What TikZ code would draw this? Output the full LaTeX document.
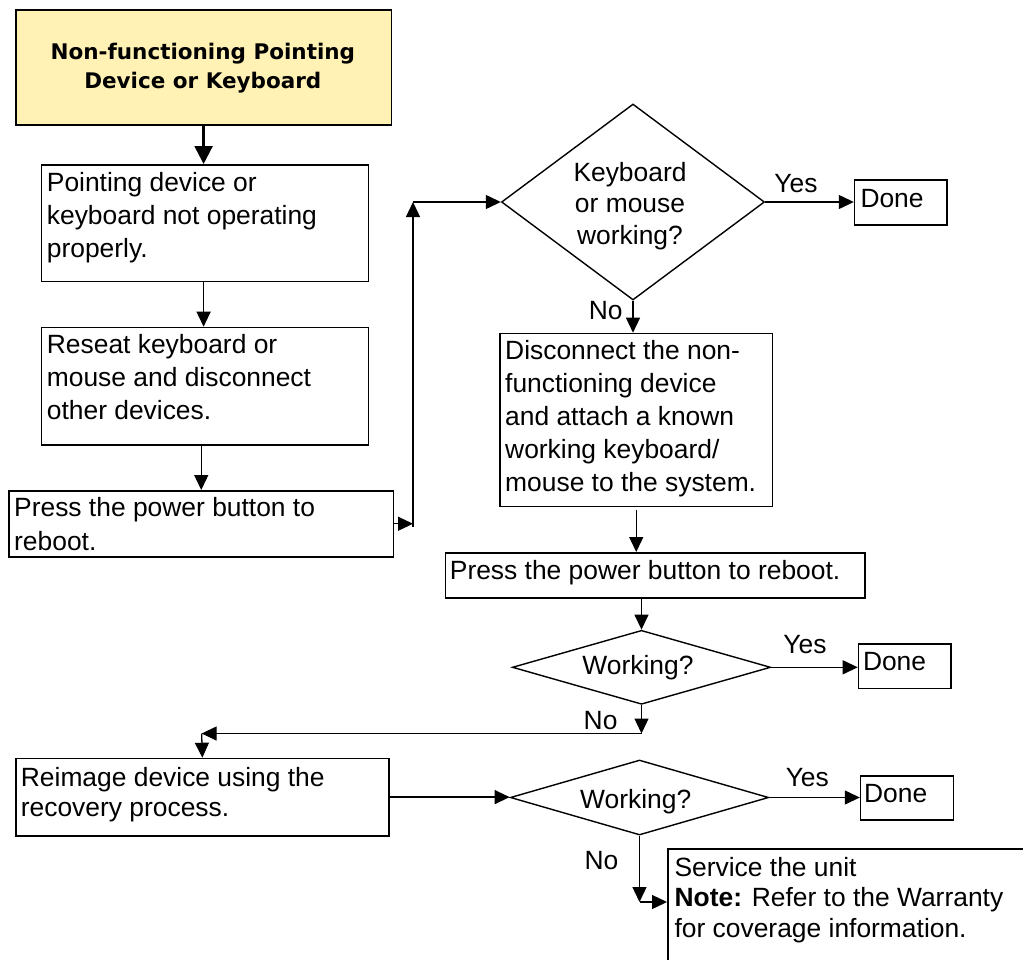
\documentclass[tikz,border=0pt]{standalone}
\usepackage{fontspec}
\setmainfont{Liberation Sans}
\newfontfamily\titlefont{DejaVu Sans}
\usetikzlibrary{arrows.meta,shapes.geometric}
\definecolor{titlefill}{RGB}{255,242,180}
\newcommand{\mlines}[2]{\vtop{\baselineskip=#1\lineskiplimit=-1000pt\relax #2}}
\newcommand{\clines}[2]{\vtop{\baselineskip=#1\lineskiplimit=-1000pt\relax\halign{\hfil##\hfil\cr #2\crcr}}}
\begin{document}
\begin{tikzpicture}[x=1pt,y=-1pt,
  box/.style={draw, line width=1.5pt, rectangle, inner sep=0pt, anchor=north west},
  dia/.style={draw, line width=1.4pt, diamond, inner sep=0pt},
  txt/.style={inner sep=0pt, font=\fontsize{26.4}{31}\selectfont, anchor=base west},
  lbl/.style={inner sep=0pt, font=\fontsize{26.4}{31}\selectfont, anchor=base},
  arr/.style={line width=1.3pt, -{Triangle[length=15pt,width=14pt]}},
  thickarr/.style={line width=2.4pt, -{Triangle[length=18pt,width=18pt]}},
]
\useasboundingbox (0,0) rectangle (1023,959);
\path[clip] (0,0) rectangle (1023,959);
\fill[white] (0,0) rectangle (1023,959);

% boxes
\node[box, fill=titlefill, minimum width=375.7, minimum height=115] (title) at (15,9) {};
\node[box, minimum width=327, minimum height=116.7] (b1) at (40.7,164) {};
\node[box, minimum width=327, minimum height=117.3] (b2) at (40.7,326.7) {};
\node[box, minimum width=384.4, minimum height=66] (p1) at (8.3,490) {};
\node[box, minimum width=272.4, minimum height=173] (b3) at (499.3,332.7) {};
\node[box, minimum width=419.5, minimum height=45] (p2) at (444.5,552) {};
\node[box, minimum width=373.3, minimum height=77.3] (b4) at (15,757.7) {};
\node[box, minimum width=92.6, minimum height=45] (done1) at (853.8,179) {};
\node[box, minimum width=92.6, minimum height=44.4] (done2) at (857.7,643.3) {};
\node[box, minimum width=92.7, minimum height=44.3] (done3) at (859.8,775) {};
\node[box, minimum width=400, minimum height=200] (svc) at (667,848.3) {};

% diamonds
\node[dia, minimum width=263, minimum height=196] (d1) at (633,202) {};
\node[dia, minimum width=258.3, minimum height=74] (d2) at (641.5,667.3) {};
\node[dia, minimum width=258.3, minimum height=75] (d3) at (639.5,797.5) {};

% texts
\node[inner sep=0pt, anchor=base, font=\titlefont\bfseries\fontsize{21.5}{29}\selectfont] (titlet) at (202.8,59.5)
  {\clines{29pt}{Non-functioning Pointing\cr Device or Keyboard}};
\node[txt] (t1) at (46.7,191.2) {\mlines{33.3pt}{\hbox{Pointing device or}\hbox{keyboard not operating}\hbox{properly.}}};
\node[txt] (t2) at (46.7,353.8) {\mlines{33pt}{\hbox{Reseat keyboard or}\hbox{mouse and disconnect}\hbox{other devices.}}};
\node[txt] (tp1) at (14,516.2) {\mlines{34pt}{\hbox{Press the power button to}\hbox{reboot.}}};
\node[txt] (t3) at (505,359.5) {\mlines{33pt}{\hbox{Disconnect the non-}\hbox{functioning device}\hbox{and attach a known}\hbox{working keyboard/}\hbox{mouse to the system.}}};
\node[txt] (tp2) at (449.7,579.5) {Press the power button to reboot.};
\node[txt] (t4) at (20.7,786.2) {\mlines{30.6pt}{\hbox{Reimage device using the}\hbox{recovery process.}}};
\node[txt] (tsvc) at (674.4,876.2) {\mlines{30.7pt}{\hbox{Service the unit}\hbox{\textbf{Note:} Refer to the Warranty}\hbox{for coverage information.}}};
\node[txt] (td1) at (860.3,207.8) {Done};
\node[txt] (td2) at (862.8,670.2) {Done};
\node[txt] (td3) at (863.9,802.2) {Done};
\node[lbl] (dt1) at (630,181.2) {\clines{31.7pt}{Keyboard\cr or mouse\cr working?}};
\node[lbl] (dt2) at (638,674.5) {Working?};
\node[lbl] (dt3) at (635.7,808.5) {Working?};
\node[lbl] (ly1) at (796,192.2) {Yes};
\node[lbl] (ln1) at (605.8,319.5) {No};
\node[lbl] (ly2) at (805,653.5) {Yes};
\node[lbl] (ln2) at (600.6,729.5) {No};
\node[lbl] (ly3) at (807.3,786.2) {Yes};
\node[lbl] (ln3) at (601.4,869.5) {No};

% junctions
\coordinate (j1) at (413,527);
\coordinate (j2) at (413,202);
\coordinate (j3) at (641.5,733.5);
\coordinate (j4) at (201.65,733.5);
\coordinate (j5) at (639.5,902);

% connectors
\draw[thickarr] (title.south) -- (title.south |- b1.north);
\draw[arr] (title.south |- b1.south) -- (title.south |- b2.north);
\draw[arr] (p1.north |- b2.south) -- (p1.north);
\draw[arr] (p1.east) -- (p1.east -| j1);
\draw[arr] (j1) -- (j2);
\draw[arr] (j2) -- (d1.west);
\draw[arr] (d1.east) -- (d1.east -| done1.west);
\draw[arr] (d1.south) -- (d1.south |- b3.north);
\draw[arr] ([yshift=-2.5pt]b3.south) -- (b3.south |- p2.north);
\draw[arr] (d2.north |- p2.south) -- (d2.north);
\draw[arr] (d2.east) -- (d2.east -| done2.west);
\draw[arr] (d2.south) -- (j3);
\draw[arr] (j3) -- (j4);
\draw[arr] (j4) -- (b4.north);
\draw[arr] (b4.east) -- (b4.east -| d3.west);
\draw[arr] (d3.east) -- (d3.east -| done3.west);
\draw[arr] (d3.south) -- (j5);
\draw[arr] (j5) -- (j5 -| svc.west);
\end{tikzpicture}
\end{document}
